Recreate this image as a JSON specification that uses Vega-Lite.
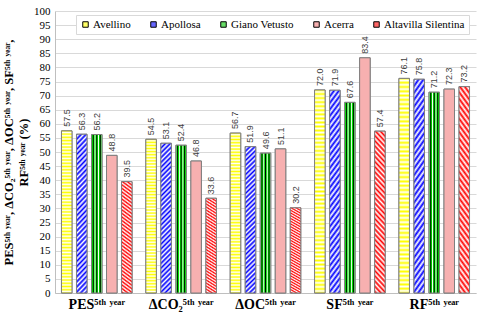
{
  "$schema": "https://vega.github.io/schema/vega-lite/v6.json",
  "width": 480,
  "height": 315,
  "autosize": {"type": "fit", "contains": "padding"},
  "padding": {"left": 2, "top": 5, "right": 4, "bottom": 4},
  "background": "white",
  "data": {
    "values": [
      {"metric": "PES⁵ᵗʰ ʸᵉᵃʳ", "site": "Avellino", "value": 57.5},
      {"metric": "PES⁵ᵗʰ ʸᵉᵃʳ", "site": "Apollosa", "value": 56.3},
      {"metric": "PES⁵ᵗʰ ʸᵉᵃʳ", "site": "Giano Vetusto", "value": 56.2},
      {"metric": "PES⁵ᵗʰ ʸᵉᵃʳ", "site": "Acerra", "value": 48.8},
      {"metric": "PES⁵ᵗʰ ʸᵉᵃʳ", "site": "Altavilla Silentina", "value": 39.5},
      {"metric": "ΔCO₂⁵ᵗʰ ʸᵉᵃʳ", "site": "Avellino", "value": 54.5},
      {"metric": "ΔCO₂⁵ᵗʰ ʸᵉᵃʳ", "site": "Apollosa", "value": 53.1},
      {"metric": "ΔCO₂⁵ᵗʰ ʸᵉᵃʳ", "site": "Giano Vetusto", "value": 52.4},
      {"metric": "ΔCO₂⁵ᵗʰ ʸᵉᵃʳ", "site": "Acerra", "value": 46.8},
      {"metric": "ΔCO₂⁵ᵗʰ ʸᵉᵃʳ", "site": "Altavilla Silentina", "value": 33.6},
      {"metric": "ΔOC⁵ᵗʰ ʸᵉᵃʳ", "site": "Avellino", "value": 56.7},
      {"metric": "ΔOC⁵ᵗʰ ʸᵉᵃʳ", "site": "Apollosa", "value": 51.9},
      {"metric": "ΔOC⁵ᵗʰ ʸᵉᵃʳ", "site": "Giano Vetusto", "value": 49.6},
      {"metric": "ΔOC⁵ᵗʰ ʸᵉᵃʳ", "site": "Acerra", "value": 51.1},
      {"metric": "ΔOC⁵ᵗʰ ʸᵉᵃʳ", "site": "Altavilla Silentina", "value": 30.2},
      {"metric": "SF⁵ᵗʰ ʸᵉᵃʳ", "site": "Avellino", "value": 72.0},
      {"metric": "SF⁵ᵗʰ ʸᵉᵃʳ", "site": "Apollosa", "value": 71.9},
      {"metric": "SF⁵ᵗʰ ʸᵉᵃʳ", "site": "Giano Vetusto", "value": 67.6},
      {"metric": "SF⁵ᵗʰ ʸᵉᵃʳ", "site": "Acerra", "value": 83.4},
      {"metric": "SF⁵ᵗʰ ʸᵉᵃʳ", "site": "Altavilla Silentina", "value": 57.4},
      {"metric": "RF⁵ᵗʰ ʸᵉᵃʳ", "site": "Avellino", "value": 76.1},
      {"metric": "RF⁵ᵗʰ ʸᵉᵃʳ", "site": "Apollosa", "value": 75.8},
      {"metric": "RF⁵ᵗʰ ʸᵉᵃʳ", "site": "Giano Vetusto", "value": 71.2},
      {"metric": "RF⁵ᵗʰ ʸᵉᵃʳ", "site": "Acerra", "value": 72.3},
      {"metric": "RF⁵ᵗʰ ʸᵉᵃʳ", "site": "Altavilla Silentina", "value": 73.2}
    ]
  },
  "encoding": {
    "x": {
      "field": "metric",
      "type": "nominal",
      "sort": null,
      "scale": {"paddingInner": 0.11, "paddingOuter": 0.05},
      "axis": {
        "title": null,
        "labelAngle": 0,
        "labelFont": "Liberation Serif",
        "labelFontSize": 14,
        "labelFontWeight": "bold",
        "labelColor": "black",
        "labelPadding": 4,
        "ticks": false,
        "domainColor": "#bfbfbf"
      }
    },
    "xOffset": {
      "field": "site",
      "type": "nominal",
      "sort": ["Avellino", "Apollosa", "Giano Vetusto", "Acerra", "Altavilla Silentina"],
      "scale": {"paddingInner": 0.3, "paddingOuter": 0.15}
    },
    "y": {
      "field": "value",
      "type": "quantitative",
      "scale": {"domain": [0, 100], "nice": false},
      "axis": {
        "values": [0, 5, 10, 15, 20, 25, 30, 35, 40, 45, 50, 55, 60, 65, 70, 75, 80, 85, 90, 95, 100],
        "title": ["PES⁵ᵗʰ ʸᵉᵃʳ, ΔCO₂⁵ᵗʰ ʸᵉᵃʳ, ΔOC⁵ᵗʰ ʸᵉᵃʳ, SF⁵ᵗʰ ʸᵉᵃʳ,", "RF⁵ᵗʰ ʸᵉᵃʳ (%)"],
        "titleFont": "Liberation Serif",
        "titleFontSize": 12.5,
        "titleLineHeight": 15,
        "titleFontWeight": "bold",
        "titleColor": "black",
        "titlePadding": 3,
        "labelFont": "Liberation Serif",
        "labelFontSize": 11,
        "labelColor": "black",
        "ticks": false,
        "labelPadding": 5,
        "domainColor": "#bfbfbf",
        "gridColor": "#d9d9d9"
      }
    }
  },
  "layer": [
    {
      "mark": {"type": "bar", "stroke": "#7f7f7f", "strokeWidth": 1},
      "encoding": {
        "color": {
          "field": "site",
          "type": "nominal",
          "sort": ["Avellino", "Apollosa", "Giano Vetusto", "Acerra", "Altavilla Silentina"],
          "scale": {
            "domain": ["Avellino", "Apollosa", "Giano Vetusto", "Acerra", "Altavilla Silentina"],
            "range": ["#ffff66", "#6666ff", "#66dd66", "#f7b0b0", "#ff6666"]
          },
          "legend": {
            "title": null,
            "orient": "none",
            "legendX": 21,
            "legendY": 4,
            "direction": "horizontal",
            "columns": 5,
            "gridAlign": "none",
            "columnPadding": 17,
            "symbolType": "square",
            "symbolSize": 30,
            "symbolStrokeColor": "black",
            "symbolStrokeWidth": 1,
            "labelFont": "Liberation Serif",
            "labelFontSize": 11,
            "labelColor": "black",
            "labelOffset": 2,
            "padding": 4,
            "fillColor": "white",
            "strokeColor": "#d9d9d9"
          }
        }
      }
    },
    {
      "mark": {"type": "bar", "stroke": "#7f7f7f", "strokeWidth": 1},
      "encoding": {
        "fill": {
          "condition": [
            {
              "test": "datum.site === 'Avellino'",
              "value": {
                "gradient": "linear", "x1": 0, "y1": 0, "x2": 0, "y2": 1,
                "stops": [
                  {"offset": 0, "color": "#ffff00"}, {"offset": 0.01, "color": "#ffffff"}, {"offset": 0.02, "color": "#ffff00"}, {"offset": 0.03, "color": "#ffffff"}, {"offset": 0.04, "color": "#ffff00"}, {"offset": 0.05, "color": "#ffffff"}, {"offset": 0.06, "color": "#ffff00"}, {"offset": 0.07, "color": "#ffffff"}, {"offset": 0.08, "color": "#ffff00"}, {"offset": 0.09, "color": "#ffffff"},
                  {"offset": 0.10, "color": "#ffff00"}, {"offset": 0.11, "color": "#ffffff"}, {"offset": 0.12, "color": "#ffff00"}, {"offset": 0.13, "color": "#ffffff"}, {"offset": 0.14, "color": "#ffff00"}, {"offset": 0.15, "color": "#ffffff"}, {"offset": 0.16, "color": "#ffff00"}, {"offset": 0.17, "color": "#ffffff"}, {"offset": 0.18, "color": "#ffff00"}, {"offset": 0.19, "color": "#ffffff"},
                  {"offset": 0.20, "color": "#ffff00"}, {"offset": 0.21, "color": "#ffffff"}, {"offset": 0.22, "color": "#ffff00"}, {"offset": 0.23, "color": "#ffffff"}, {"offset": 0.24, "color": "#ffff00"}, {"offset": 0.25, "color": "#ffffff"}, {"offset": 0.26, "color": "#ffff00"}, {"offset": 0.27, "color": "#ffffff"}, {"offset": 0.28, "color": "#ffff00"}, {"offset": 0.29, "color": "#ffffff"},
                  {"offset": 0.30, "color": "#ffff00"}, {"offset": 0.31, "color": "#ffffff"}, {"offset": 0.32, "color": "#ffff00"}, {"offset": 0.33, "color": "#ffffff"}, {"offset": 0.34, "color": "#ffff00"}, {"offset": 0.35, "color": "#ffffff"}, {"offset": 0.36, "color": "#ffff00"}, {"offset": 0.37, "color": "#ffffff"}, {"offset": 0.38, "color": "#ffff00"}, {"offset": 0.39, "color": "#ffffff"},
                  {"offset": 0.40, "color": "#ffff00"}, {"offset": 0.41, "color": "#ffffff"}, {"offset": 0.42, "color": "#ffff00"}, {"offset": 0.43, "color": "#ffffff"}, {"offset": 0.44, "color": "#ffff00"}, {"offset": 0.45, "color": "#ffffff"}, {"offset": 0.46, "color": "#ffff00"}, {"offset": 0.47, "color": "#ffffff"}, {"offset": 0.48, "color": "#ffff00"}, {"offset": 0.49, "color": "#ffffff"},
                  {"offset": 0.50, "color": "#ffff00"}, {"offset": 0.51, "color": "#ffffff"}, {"offset": 0.52, "color": "#ffff00"}, {"offset": 0.53, "color": "#ffffff"}, {"offset": 0.54, "color": "#ffff00"}, {"offset": 0.55, "color": "#ffffff"}, {"offset": 0.56, "color": "#ffff00"}, {"offset": 0.57, "color": "#ffffff"}, {"offset": 0.58, "color": "#ffff00"}, {"offset": 0.59, "color": "#ffffff"},
                  {"offset": 0.60, "color": "#ffff00"}, {"offset": 0.61, "color": "#ffffff"}, {"offset": 0.62, "color": "#ffff00"}, {"offset": 0.63, "color": "#ffffff"}, {"offset": 0.64, "color": "#ffff00"}, {"offset": 0.65, "color": "#ffffff"}, {"offset": 0.66, "color": "#ffff00"}, {"offset": 0.67, "color": "#ffffff"}, {"offset": 0.68, "color": "#ffff00"}, {"offset": 0.69, "color": "#ffffff"},
                  {"offset": 0.70, "color": "#ffff00"}, {"offset": 0.71, "color": "#ffffff"}, {"offset": 0.72, "color": "#ffff00"}, {"offset": 0.73, "color": "#ffffff"}, {"offset": 0.74, "color": "#ffff00"}, {"offset": 0.75, "color": "#ffffff"}, {"offset": 0.76, "color": "#ffff00"}, {"offset": 0.77, "color": "#ffffff"}, {"offset": 0.78, "color": "#ffff00"}, {"offset": 0.79, "color": "#ffffff"},
                  {"offset": 0.80, "color": "#ffff00"}, {"offset": 0.81, "color": "#ffffff"}, {"offset": 0.82, "color": "#ffff00"}, {"offset": 0.83, "color": "#ffffff"}, {"offset": 0.84, "color": "#ffff00"}, {"offset": 0.85, "color": "#ffffff"}, {"offset": 0.86, "color": "#ffff00"}, {"offset": 0.87, "color": "#ffffff"}, {"offset": 0.88, "color": "#ffff00"}, {"offset": 0.89, "color": "#ffffff"},
                  {"offset": 0.90, "color": "#ffff00"}, {"offset": 0.91, "color": "#ffffff"}, {"offset": 0.92, "color": "#ffff00"}, {"offset": 0.93, "color": "#ffffff"}, {"offset": 0.94, "color": "#ffff00"}, {"offset": 0.95, "color": "#ffffff"}, {"offset": 0.96, "color": "#ffff00"}, {"offset": 0.97, "color": "#ffffff"}, {"offset": 0.98, "color": "#ffff00"}, {"offset": 0.99, "color": "#ffffff"},
                  {"offset": 1, "color": "#ffff00"}
                ]
              }
            },
            {
              "test": "datum.site === 'Apollosa'",
              "value": {
                "gradient": "linear", "x1": 0, "y1": 0, "x2": 0.0745, "y2": 1.065,
                "stops": [
                  {"offset": 0, "color": "#0000ff"}, {"offset": 0.015, "color": "#ffffff"}, {"offset": 0.03, "color": "#0000ff"}, {"offset": 0.045, "color": "#ffffff"}, {"offset": 0.06, "color": "#0000ff"}, {"offset": 0.075, "color": "#ffffff"}, {"offset": 0.09, "color": "#0000ff"}, {"offset": 0.105, "color": "#ffffff"}, {"offset": 0.12, "color": "#0000ff"}, {"offset": 0.135, "color": "#ffffff"},
                  {"offset": 0.15, "color": "#0000ff"}, {"offset": 0.165, "color": "#ffffff"}, {"offset": 0.18, "color": "#0000ff"}, {"offset": 0.195, "color": "#ffffff"}, {"offset": 0.21, "color": "#0000ff"}, {"offset": 0.225, "color": "#ffffff"}, {"offset": 0.24, "color": "#0000ff"}, {"offset": 0.255, "color": "#ffffff"}, {"offset": 0.27, "color": "#0000ff"}, {"offset": 0.285, "color": "#ffffff"},
                  {"offset": 0.30, "color": "#0000ff"}, {"offset": 0.315, "color": "#ffffff"}, {"offset": 0.33, "color": "#0000ff"}, {"offset": 0.345, "color": "#ffffff"}, {"offset": 0.36, "color": "#0000ff"}, {"offset": 0.375, "color": "#ffffff"}, {"offset": 0.39, "color": "#0000ff"}, {"offset": 0.405, "color": "#ffffff"}, {"offset": 0.42, "color": "#0000ff"}, {"offset": 0.435, "color": "#ffffff"},
                  {"offset": 0.45, "color": "#0000ff"}, {"offset": 0.465, "color": "#ffffff"}, {"offset": 0.48, "color": "#0000ff"}, {"offset": 0.495, "color": "#ffffff"}, {"offset": 0.51, "color": "#0000ff"}, {"offset": 0.525, "color": "#ffffff"}, {"offset": 0.54, "color": "#0000ff"}, {"offset": 0.555, "color": "#ffffff"}, {"offset": 0.57, "color": "#0000ff"}, {"offset": 0.585, "color": "#ffffff"},
                  {"offset": 0.60, "color": "#0000ff"}, {"offset": 0.615, "color": "#ffffff"}, {"offset": 0.63, "color": "#0000ff"}, {"offset": 0.645, "color": "#ffffff"}, {"offset": 0.66, "color": "#0000ff"}, {"offset": 0.675, "color": "#ffffff"}, {"offset": 0.69, "color": "#0000ff"}, {"offset": 0.705, "color": "#ffffff"}, {"offset": 0.72, "color": "#0000ff"}, {"offset": 0.735, "color": "#ffffff"},
                  {"offset": 0.75, "color": "#0000ff"}, {"offset": 0.765, "color": "#ffffff"}, {"offset": 0.78, "color": "#0000ff"}, {"offset": 0.795, "color": "#ffffff"}, {"offset": 0.81, "color": "#0000ff"}, {"offset": 0.825, "color": "#ffffff"}, {"offset": 0.84, "color": "#0000ff"}, {"offset": 0.855, "color": "#ffffff"}, {"offset": 0.87, "color": "#0000ff"}, {"offset": 0.885, "color": "#ffffff"},
                  {"offset": 0.90, "color": "#0000ff"}, {"offset": 0.915, "color": "#ffffff"}, {"offset": 0.93, "color": "#0000ff"}, {"offset": 0.945, "color": "#ffffff"}, {"offset": 0.96, "color": "#0000ff"}, {"offset": 0.975, "color": "#ffffff"}, {"offset": 0.99, "color": "#0000ff"}, {"offset": 1, "color": "#ffffff"}
                ]
              }
            },
            {
              "test": "datum.site === 'Giano Vetusto'",
              "value": {
                "gradient": "linear", "x1": 0, "y1": 0, "x2": 1, "y2": 0,
                "stops": [
                  {"offset": 0, "color": "#ffffff"}, {"offset": 0.083, "color": "#00e000"}, {"offset": 0.167, "color": "#000000"}, {"offset": 0.25, "color": "#00e000"}, {"offset": 0.333, "color": "#ffffff"}, {"offset": 0.417, "color": "#00e000"}, {"offset": 0.5, "color": "#000000"}, {"offset": 0.583, "color": "#00e000"}, {"offset": 0.667, "color": "#ffffff"}, {"offset": 0.75, "color": "#00e000"}, {"offset": 0.833, "color": "#000000"}, {"offset": 0.917, "color": "#00e000"}, {"offset": 1, "color": "#ffffff"}
                ]
              }
            },
            {
              "test": "datum.site === 'Altavilla Silentina'",
              "value": {
                "gradient": "linear", "x1": 1, "y1": 0, "x2": 0.9255, "y2": 1.065,
                "stops": [
                  {"offset": 0, "color": "#ff0000"}, {"offset": 0.015, "color": "#ffffff"}, {"offset": 0.03, "color": "#ff0000"}, {"offset": 0.045, "color": "#ffffff"}, {"offset": 0.06, "color": "#ff0000"}, {"offset": 0.075, "color": "#ffffff"}, {"offset": 0.09, "color": "#ff0000"}, {"offset": 0.105, "color": "#ffffff"}, {"offset": 0.12, "color": "#ff0000"}, {"offset": 0.135, "color": "#ffffff"},
                  {"offset": 0.15, "color": "#ff0000"}, {"offset": 0.165, "color": "#ffffff"}, {"offset": 0.18, "color": "#ff0000"}, {"offset": 0.195, "color": "#ffffff"}, {"offset": 0.21, "color": "#ff0000"}, {"offset": 0.225, "color": "#ffffff"}, {"offset": 0.24, "color": "#ff0000"}, {"offset": 0.255, "color": "#ffffff"}, {"offset": 0.27, "color": "#ff0000"}, {"offset": 0.285, "color": "#ffffff"},
                  {"offset": 0.30, "color": "#ff0000"}, {"offset": 0.315, "color": "#ffffff"}, {"offset": 0.33, "color": "#ff0000"}, {"offset": 0.345, "color": "#ffffff"}, {"offset": 0.36, "color": "#ff0000"}, {"offset": 0.375, "color": "#ffffff"}, {"offset": 0.39, "color": "#ff0000"}, {"offset": 0.405, "color": "#ffffff"}, {"offset": 0.42, "color": "#ff0000"}, {"offset": 0.435, "color": "#ffffff"},
                  {"offset": 0.45, "color": "#ff0000"}, {"offset": 0.465, "color": "#ffffff"}, {"offset": 0.48, "color": "#ff0000"}, {"offset": 0.495, "color": "#ffffff"}, {"offset": 0.51, "color": "#ff0000"}, {"offset": 0.525, "color": "#ffffff"}, {"offset": 0.54, "color": "#ff0000"}, {"offset": 0.555, "color": "#ffffff"}, {"offset": 0.57, "color": "#ff0000"}, {"offset": 0.585, "color": "#ffffff"},
                  {"offset": 0.60, "color": "#ff0000"}, {"offset": 0.615, "color": "#ffffff"}, {"offset": 0.63, "color": "#ff0000"}, {"offset": 0.645, "color": "#ffffff"}, {"offset": 0.66, "color": "#ff0000"}, {"offset": 0.675, "color": "#ffffff"}, {"offset": 0.69, "color": "#ff0000"}, {"offset": 0.705, "color": "#ffffff"}, {"offset": 0.72, "color": "#ff0000"}, {"offset": 0.735, "color": "#ffffff"},
                  {"offset": 0.75, "color": "#ff0000"}, {"offset": 0.765, "color": "#ffffff"}, {"offset": 0.78, "color": "#ff0000"}, {"offset": 0.795, "color": "#ffffff"}, {"offset": 0.81, "color": "#ff0000"}, {"offset": 0.825, "color": "#ffffff"}, {"offset": 0.84, "color": "#ff0000"}, {"offset": 0.855, "color": "#ffffff"}, {"offset": 0.87, "color": "#ff0000"}, {"offset": 0.885, "color": "#ffffff"},
                  {"offset": 0.90, "color": "#ff0000"}, {"offset": 0.915, "color": "#ffffff"}, {"offset": 0.93, "color": "#ff0000"}, {"offset": 0.945, "color": "#ffffff"}, {"offset": 0.96, "color": "#ff0000"}, {"offset": 0.975, "color": "#ffffff"}, {"offset": 0.99, "color": "#ff0000"}, {"offset": 1, "color": "#ffffff"}
                ]
              }
            }
          ],
          "value": "#f7b0b0"
        }
      }
    },
    {
      "mark": {
        "type": "text",
        "angle": 270,
        "align": "left",
        "baseline": "middle",
        "dx": 4,
        "font": "Liberation Sans",
        "fontSize": 9,
        "fill": "#404040"
      },
      "encoding": {
        "text": {"field": "value", "type": "quantitative", "format": ".1f"}
      }
    }
  ],
  "config": {
    "view": {"stroke": null}
  }
}
